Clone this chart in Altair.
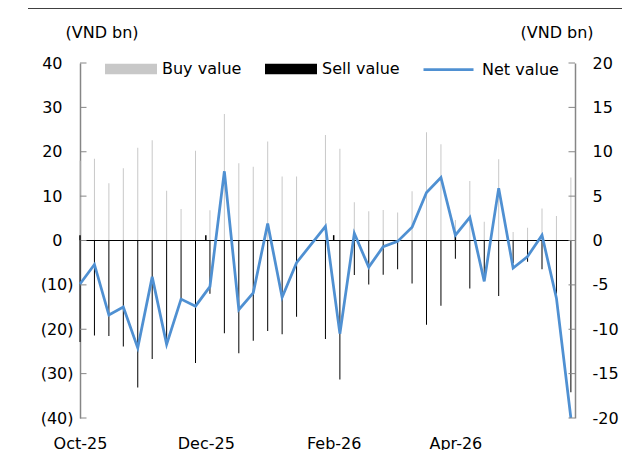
import altair as alt
import pandas as pd

FONT = "DejaVu Sans"

# Weekly observations (the week of 2026-02-16 is absent in the source chart)
dates = [
    "2025-10-27", "2025-11-03", "2025-11-10", "2025-11-17", "2025-11-24",
    "2025-12-01", "2025-12-08", "2025-12-15", "2025-12-22", "2025-12-29",
    "2026-01-05", "2026-01-12", "2026-01-19", "2026-01-26", "2026-02-02",
    "2026-02-09", "2026-02-23", "2026-03-02", "2026-03-09", "2026-03-16",
    "2026-03-23", "2026-03-30", "2026-04-06", "2026-04-13", "2026-04-20",
    "2026-04-27", "2026-05-04", "2026-05-11", "2026-05-18", "2026-05-25",
    "2026-06-01", "2026-06-08", "2026-06-15", "2026-06-22",
]
buy = [18.0, 18.4, 12.9, 16.3, 20.9, 22.6, 11.2, 7.1, 20.2, 6.8, 28.5, 17.4,
       16.6, 22.3, 14.4, 14.4, 23.8, 20.7, 8.6, 6.6, 6.9, 6.3, 11.1, 24.4,
       21.7, 4.6, 13.4, 4.2, 18.3, 1.9, 2.9, 7.2, 5.5, 14.2]
sell = [-22.9, -21.4, -21.5, -23.9, -33.1, -26.7, -22.9, -13.7, -27.6, -12.0,
        -20.9, -25.4, -22.6, -20.4, -21.1, -17.2, -22.2, -31.3, -7.8, -9.9,
        -7.7, -6.5, -9.7, -19.0, -14.7, -4.1, -10.8, -8.9, -12.5, -5.1, -4.8,
        -6.5, -12.0, -34.2]
net = [-4.9, -2.7, -8.4, -7.5, -12.1, -4.1, -11.7, -6.6, -7.4, -5.2, 7.8, -7.8,
       -5.9, 1.9, -6.4, -2.5, 1.6, -10.5, 0.8, -3.0, -0.7, -0.1, 1.5, 5.4, 7.1,
       0.6, 2.6, -4.6, 5.9, -3.1, -1.8, 0.6, -6.5, -20.0]

left_ticks = [-40, -30, -20, -10, 0, 10, 20, 30, 40]
right_ticks = [-20, -15, -10, -5, 0, 5, 10, 15, 20]
x_label_dates = ["2025-10-27", "2025-12-27", "2026-02-27", "2026-04-27"]
series_bars = ["Buy value", "Sell value"]
series_line = ["Net value"]

n = len(dates)
dt = [d + "T00:00:00" for d in dates]
bars_df = pd.DataFrame({
    "date": dt + dt,
    "series": [series_bars[0]] * n + [series_bars[1]] * n,
    "value": buy + sell,
})
net_df = pd.DataFrame({"date": dt, "series": series_line[0], "value": net})
xt_df = pd.DataFrame({"date": [d + "T00:00:00" for d in x_label_dates],
                      "y0": [0.0] * len(x_label_dates),
                      "y1": [1.2] * len(x_label_dates)})


def dtobj(s):
    y, m, d = s.split("-")
    return alt.DateTime(year=int(y), month=int(m), date=int(d))


x_dom = [dtobj("2025-10-27"), dtobj("2026-06-24")]
x_scale = alt.Scale(domain=x_dom, nice=False, padding=0)
yl_scale = alt.Scale(domain=[-40, 40], nice=False, padding=0)
yr_scale = alt.Scale(domain=[-20, 20], nice=False, padding=0)

x_axis = alt.Axis(
    values=[dtobj(s) for s in x_label_dates], format="%b-%y",
    domain=False, ticks=False, grid=False, labelFont=FONT, labelFontSize=16,
    labelColor="black", labelPadding=17, title=None, labelFlush=False,
    labelOverlap=False,
)

left_label = ("datum.value < 0 ? '(' + format(-datum.value, 'd') + ')' : "
              "format(datum.value, 'd')")
right_label = ("datum.value < 0 ? '-' + format(-datum.value, 'd') : "
               "format(datum.value, 'd')")

yl_axis = alt.Axis(
    orient="left", values=left_ticks, labelExpr=left_label, ticks=False,
    tickSize=0, grid=False, domainColor="#868686", domainWidth=1.5,
    labelFont=FONT, labelFontSize=16, labelColor="black",
    labelPadding={"condition": {"test": "datum.value >= 0", "value": 18},
                  "value": 7},
    title="(VND bn)", titleAngle=0, titleAlign="left",
    titleBaseline="middle", titleX=-15, titleY=-31, titleFont=FONT,
    titleFontSize=16, titleFontWeight="normal", titleColor="black")

yr_axis = alt.Axis(
    orient="right", values=right_ticks, labelExpr=right_label, ticks=False,
    tickSize=0, grid=False, domainColor="#868686", domainWidth=1.5,
    labelFont=FONT, labelFontSize=16, labelColor="black", labelPadding=17,
    title="(VND bn)", titleAngle=0, titleAlign="left",
    titleBaseline="middle", titleX=-55, titleY=-31, titleFont=FONT,
    titleFontSize=16, titleFontWeight="normal", titleColor="black")

X = lambda f: alt.X(f, scale=x_scale, axis=x_axis)
YL = lambda f: alt.Y(f, scale=yl_scale, axis=yl_axis)
YR = lambda f: alt.Y(f, scale=yr_scale, axis=yr_axis)

bars = alt.Chart(bars_df).mark_bar(width=1).encode(
    x=X("date:T"),
    y=YL("value:Q"),
    color=alt.Color("series:N", scale=alt.Scale(
        domain=series_bars, range=["#c8c8c8", "#000000"]),
        legend=alt.Legend(
            orient="none", legendX=25, legendY=-20, direction="horizontal",
            title=None, symbolType="M-1,-0.2H1V0.2H-1Z", symbolSize=2704,
            symbolStrokeWidth=0, labelFont=FONT, labelFontSize=16,
            labelColor="black", labelOffset=5, columnPadding=23)),
)

zero = alt.Chart(pd.DataFrame({"value": [0]})).mark_rule(
    color="black", strokeWidth=1).encode(y=YL("value:Q"))

lticks = alt.Chart(pd.DataFrame({"value": left_ticks})).mark_rule(
    color="#868686", strokeWidth=1).encode(
    y=YL("value:Q"), x=alt.value(0), x2=alt.value(6.5))

xticks = alt.Chart(xt_df).mark_rule(color="black", strokeWidth=1.5).encode(
    x=X("date:T"), y=YL("y0:Q"), y2="y1:Q")

topline = alt.Chart(pd.DataFrame({"a": [0]})).mark_rule(
    color="black", strokeWidth=1.5).encode(
    x=alt.value(-52), x2=alt.value(545), y=alt.value(-55))

line = alt.Chart(net_df).mark_line(strokeWidth=2.75).encode(
    x=X("date:T"),
    y=YR("value:Q"),
    stroke=alt.Stroke("series:N", scale=alt.Scale(
        domain=series_line, range=["#4f90d2"]),
        legend=alt.Legend(
            orient="none", legendX=342, legendY=-20, direction="horizontal",
            title=None, symbolType="stroke", symbolSize=2500,
            symbolStrokeWidth=2.75, labelFont=FONT, labelFontSize=16,
            labelColor="black", labelOffset=7)),
)

rticks = alt.Chart(pd.DataFrame({"value": right_ticks})).mark_rule(
    color="#868686", strokeWidth=1).encode(
    y=YR("value:Q"), x=alt.value(488.5), x2=alt.value(495))

left = alt.layer(bars, zero, lticks, xticks, topline)
right = alt.layer(line, rticks)

chart = alt.layer(left, right).resolve_scale(
    y="independent", color="independent", stroke="independent"
).properties(
    width=495, height=355,
    autosize=alt.AutoSizeParams(type="none"),
    padding={"left": 72, "top": 55, "right": 47, "bottom": 32},
    background="white",
).configure_view(stroke=None)

chart.save("out.html", embed_options={"renderer": "svg", "actions": False})
